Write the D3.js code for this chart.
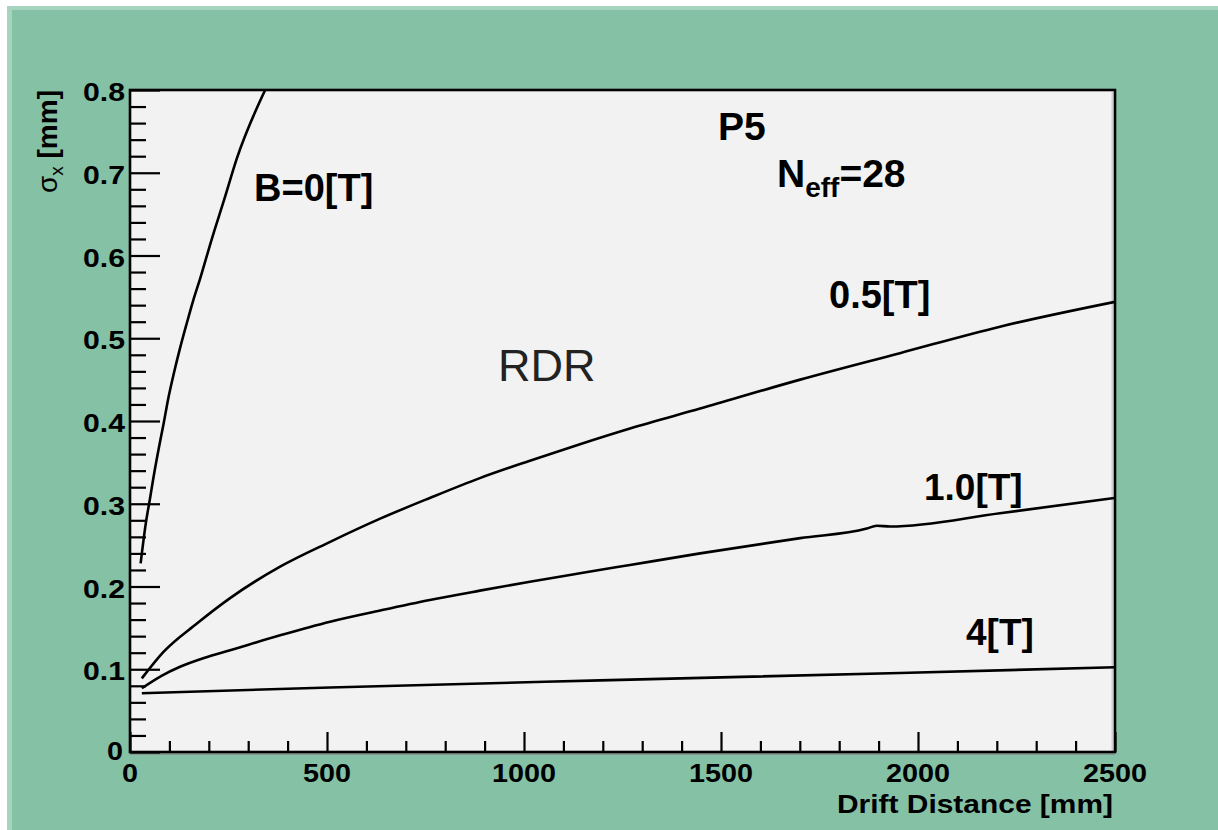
<!DOCTYPE html>
<html>
<head>
<meta charset="utf-8">
<script src="https://cdn.jsdelivr.net/npm/d3@7"></script>
<style>
  html, body { margin: 0; padding: 0; background: #ffffff; }
  svg { display: block; }
</style>
</head>
<body>
<svg id="chart" width="1218" height="830"></svg>
<script>
// ---- data ----
const distB0  = [27, 40, 51, 60, 75, 85, 97, 110, 127, 144, 160, 178, 207, 240, 271, 343];
const sigmaB0 = [0.228, 0.276, 0.307, 0.333, 0.372, 0.396, 0.427, 0.455, 0.488, 0.518, 0.545, 0.572, 0.619, 0.669, 0.717, 0.800];

const dist05  = [30, 85, 169, 254, 381, 508, 635, 761, 888, 1015, 1142, 1269, 1447, 1701, 1954, 2208, 2500];
const sigma05 = [0.089, 0.121, 0.155, 0.186, 0.224, 0.254, 0.282, 0.307, 0.331, 0.352, 0.372, 0.391, 0.415, 0.450, 0.482, 0.514, 0.544];

const dist10  = [30, 80, 127, 190, 254, 381, 508, 635, 761, 888, 1015, 1142, 1269, 1447, 1701, 1870, 1895, 1930, 2208, 2500];
const sigma10 = [0.077, 0.092, 0.103, 0.114, 0.123, 0.141, 0.1575, 0.171, 0.1837, 0.195, 0.2058, 0.216, 0.226, 0.240, 0.2585, 0.270, 0.2735, 0.2725, 0.2885, 0.307];

const dist4   = [30, 508, 1193, 1954, 2500];
const sigma4  = [0.071, 0.078, 0.0865, 0.0955, 0.1024];

const xTickValues = [0, 500, 1000, 1500, 2000, 2500];
const xTickLabels = ["0", "500", "1000", "1500", "2000", "2500"];
const yTickValues = [0, 0.1, 0.2, 0.3, 0.4, 0.5, 0.6, 0.7, 0.8];
const yTickLabels = ["0", "0.1", "0.2", "0.3", "0.4", "0.5", "0.6", "0.7", "0.8"];

// ---- layout ----
const svg = d3.select("#chart");
const W = 1218, H = 830;
const L = 130, R = 1115, T = 90, B = 752;

const x = d3.scaleLinear().domain([0, 2500]).range([L, R]);
const y = d3.scaleLinear().domain([0, 0.8]).range([B, T]);

// background frame
svg.append("rect").attr("x", 0).attr("y", 0).attr("width", W).attr("height", H).attr("fill", "#ffffff");
svg.append("rect").attr("x", 7).attr("y", 6).attr("width", W - 7).attr("height", H - 6).attr("fill", "#a7d4bf");
svg.append("rect").attr("x", 12).attr("y", 10).attr("width", W - 12).attr("height", H - 10).attr("fill", "#85c1a5");

// plot area
svg.append("rect").attr("x", L).attr("y", T).attr("width", R - L).attr("height", B - T).attr("fill", "#f2f2f2");
svg.append("line").attr("x1", R - 2.5).attr("x2", R - 2.5).attr("y1", T + 2).attr("y2", B).attr("stroke", "#cfcfcf").attr("stroke-width", 2);
svg.append("line").attr("x1", L).attr("x2", R).attr("y1", B + 2.2).attr("y2", B + 2.2).attr("stroke", "#8a8a8a").attr("stroke-width", 1.2);

svg.append("defs").append("clipPath").attr("id", "clip")
  .append("rect").attr("x", L).attr("y", T).attr("width", R - L).attr("height", B - T);

// ticks
const tickW = 2.2;
const xMinor = d3.range(0, 2501, 100).filter(v => v % 500 !== 0);
const yMinor = d3.range(0, 81, 2).map(v => v / 100).filter((v, i) => i % 5 !== 0);

function styleAxis(g) {
  g.select(".domain").remove();
  g.selectAll(".tick line").attr("stroke", "#000").attr("stroke-width", tickW);
  g.selectAll(".tick text").remove();
}
svg.append("g").attr("transform", `translate(0,${B})`)
  .call(d3.axisBottom(x).tickValues(xMinor).tickSize(-11).tickFormat("")).call(styleAxis);
svg.append("g").attr("transform", `translate(0,${B})`)
  .call(d3.axisBottom(x).tickValues(xTickValues).tickSize(-20).tickFormat("")).call(styleAxis);
svg.append("g").attr("transform", `translate(${L},0)`)
  .call(d3.axisLeft(y).tickValues(yMinor).tickSize(-16).tickFormat("")).call(styleAxis);
svg.append("g").attr("transform", `translate(${L},0)`)
  .call(d3.axisLeft(y).tickValues(yTickValues).tickSize(-30).tickFormat("")).call(styleAxis);

// frame border
svg.append("rect").attr("x", L).attr("y", T).attr("width", R - L).attr("height", B - T)
  .attr("fill", "none").attr("stroke", "#000").attr("stroke-width", 2.6);

// tick labels
const labelFont = "'Liberation Sans', Arial, Helvetica, sans-serif";
function lenOf(s) { let w = 0; for (const c of s) w += (c === "." ? 10 : 16); return w; }

svg.append("g").selectAll("text").data(xTickValues).join("text")
  .attr("x", d => x(d)).attr("y", 782)
  .attr("text-anchor", "middle")
  .attr("font-family", labelFont).attr("font-weight", "bold").attr("font-size", 26)
  .attr("textLength", (d, i) => lenOf(xTickLabels[i]))
  .attr("lengthAdjust", "spacingAndGlyphs")
  .attr("fill", "#000")
  .text((d, i) => xTickLabels[i]);

svg.append("g").selectAll("text").data(yTickValues).join("text")
  .attr("x", (d, i) => i === 0 ? 123 : 125)
  .attr("y", (d, i) => y(d) + (i === 0 ? 8 : 11))
  .attr("text-anchor", "end")
  .attr("font-family", labelFont).attr("font-weight", "bold").attr("font-size", 25)
  .attr("textLength", (d, i) => lenOf(yTickLabels[i]))
  .attr("lengthAdjust", "spacingAndGlyphs")
  .attr("fill", "#000")
  .text((d, i) => yTickLabels[i]);

// axis titles
svg.append("text")
  .attr("x", 1113).attr("y", 813)
  .attr("text-anchor", "end")
  .attr("font-family", labelFont).attr("font-weight", "bold").attr("font-size", 26)
  .attr("textLength", 276).attr("lengthAdjust", "spacingAndGlyphs")
  .attr("fill", "#000")
  .text("Drift Distance [mm]");

const yt = svg.append("text")
  .attr("transform", "translate(57,90) rotate(-90)")
  .attr("text-anchor", "end")
  .attr("font-family", labelFont).attr("font-size", 28).attr("fill", "#000");
yt.append("tspan").attr("font-weight", "normal").text("σ");
yt.append("tspan").attr("font-weight", "normal").attr("font-size", 19).attr("dy", 6).text("x");
yt.append("tspan").attr("font-weight", "bold").attr("dy", -6).text(" [mm]");

// curves
const line = d3.line().x(d => x(d[0])).y(d => y(d[1])).curve(d3.curveMonotoneX);
const series = [
  d3.zip(distB0, sigmaB0),
  d3.zip(dist05, sigma05),
  d3.zip(dist10, sigma10),
  d3.zip(dist4, sigma4)
];
svg.append("g").attr("clip-path", "url(#clip)")
  .selectAll("path").data(series).join("path")
  .attr("d", line)
  .attr("fill", "none").attr("stroke", "#000").attr("stroke-width", 2.6)
  .attr("stroke-linejoin", "round");

// in-plot labels
const inLabels = [
  { t: "B=0[T]", x: 254, y: 201, s: 38 },
  { t: "0.5[T]", x: 829, y: 308, s: 38 },
  { t: "1.0[T]", x: 924, y: 500, s: 37 },
  { t: "4[T]",   x: 966, y: 645, s: 37 },
  { t: "P5",     x: 718, y: 140, s: 39 }
];
svg.append("g").selectAll("text").data(inLabels).join("text")
  .attr("x", d => d.x).attr("y", d => d.y)
  .attr("font-family", labelFont).attr("font-weight", "bold")
  .attr("font-size", d => d.s).attr("fill", "#000")
  .text(d => d.t);

const neff = svg.append("text").attr("x", 777).attr("y", 187)
  .attr("font-family", labelFont).attr("font-weight", "bold").attr("font-size", 39).attr("fill", "#000");
neff.append("tspan").text("N");
neff.append("tspan").attr("font-size", 28).attr("dy", 10).text("eff");
neff.append("tspan").attr("dy", -10).text("=28");

svg.append("text").attr("x", 498).attr("y", 381)
  .attr("font-family", labelFont).attr("font-size", 45).attr("fill", "#222")
  .text("RDR");
</script>
</body>
</html>
